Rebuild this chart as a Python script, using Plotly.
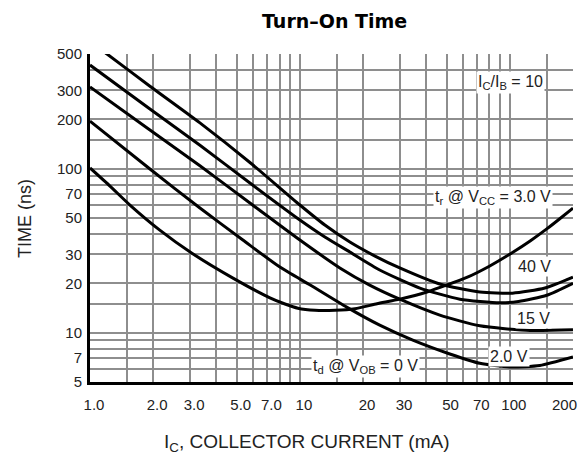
import plotly.graph_objects as go

# ---- data ----
ic_40v = [1.0, 1.205, 1.93, 3.34, 5.78, 10, 13.15, 17.3, 22.8, 29.9, 46.4, 72, 103, 147, 200]
t_40v = [593, 500, 318, 190, 109, 60.0, 45.3, 35.7, 29.3, 24.8, 19.8, 17.7, 17.4, 18.7, 21.8]

ic_0v = [1.0, 1.93, 3.34, 5.78, 10, 13.15, 17.3, 24.0, 37.3, 57.8, 89.6, 110, 150, 200]
t_0v = [428, 231, 139, 81.7, 48.6, 38.3, 31.0, 24.1, 18.7, 16.0, 15.2, 15.5, 16.9, 20.0]

ic_15v = [1.0, 1.93, 3.34, 5.78, 10, 15.5, 21.5, 29.9, 46.4, 72, 125, 200]
t_15v = [315, 172, 104, 61.7, 36.7, 24.8, 19.5, 16.0, 12.8, 11.0, 10.3, 10.4]

ic_2v = [1.0, 1.93, 3.34, 5.35, 8.03, 11.2, 16.7, 24.0, 34.5, 51.8, 72, 100, 139, 200]
t_2v = [195, 99.5, 57.5, 36.7, 25.1, 19.5, 14.3, 11.1, 9.0, 7.41, 6.5, 6.17, 6.3, 7.1]

ic_3v = [1.0, 1.245, 1.55, 2.15, 3.06, 4.80, 7.20, 8.49, 9.78, 11.8, 14.7, 18.3, 23.3, 29.9, 40.3,
         62.4, 80.3, 103, 125, 150, 173, 200]
t_3v = [101, 78.3, 60.0, 42.2, 30.5, 21.5, 16.3, 14.95, 14.1, 13.7, 13.7, 14.0, 15.0, 16.0, 17.7,
        21.7, 25.5, 30.8, 36.2, 42.9, 49.5, 57.5]

x_tickvals = [1, 2, 3, 5, 7, 10, 20, 30, 50, 70, 100, 200]
x_ticktext = ["1.0", "2.0", "3.0", "5.0", "7.0", "10", "20", "30", "50", "70", "100",
              "200&nbsp;&nbsp;&nbsp;&nbsp;&nbsp;&nbsp;"]
x_minor = [1.5, 4, 6, 8, 9, 15, 40, 60, 80, 90, 150]

y_tickvals = [5, 7, 10, 20, 30, 50, 70, 100, 200, 300, 500]
y_ticktext = ["5", "7", "10", "20", "30", "50", "70", "100", "200", "300", "500"]
y_minor = [6, 8, 9, 15, 40, 60, 80, 90, 150, 400]

series = [
    (ic_40v, t_40v),
    (ic_0v, t_0v),
    (ic_15v, t_15v),
    (ic_2v, t_2v),
    (ic_3v, t_3v),
]

fig = go.Figure()
for xs, ys in series:
    fig.add_trace(go.Scatter(
        x=xs, y=ys, mode="lines",
        line=dict(color="black", width=3, shape="spline", smoothing=0.6),
        showlegend=False, hoverinfo="skip",
    ))

FONT = "Liberation Sans, Arial, sans-serif"
GRID = "#8e8e8e"

fig.update_layout(
    width=579, height=455,
    margin=dict(l=90, r=6, t=54, b=73, autoexpand=False),
    paper_bgcolor="white", plot_bgcolor="white",
    font=dict(family=FONT, color="#222"),
    xaxis=dict(
        type="log", range=[0, 2.3011], automargin=False,
        tickmode="array", tickvals=x_tickvals, ticktext=x_ticktext,
        tickfont=dict(size=15, color="#222"),
        showgrid=True, gridcolor=GRID, gridwidth=1.5,
        minor=dict(tickmode="array", tickvals=x_minor, showgrid=True,
                   gridcolor=GRID, gridwidth=1.5),
        showline=True, linecolor="black", linewidth=3,
        ticks="", ticklabelstandoff=7, ticklabelshift=4,
        ticklabeloverflow="allow", zeroline=False,
    ),
    yaxis=dict(
        type="log", range=[0.69897, 2.69897], automargin=False,
        tickmode="array", tickvals=y_tickvals, ticktext=y_ticktext,
        tickfont=dict(size=15, color="#222"),
        showgrid=True, gridcolor=GRID, gridwidth=1.5,
        minor=dict(tickmode="array", tickvals=y_minor, showgrid=True,
                   gridcolor=GRID, gridwidth=1.5),
        showline=True, linecolor="black", linewidth=3,
        ticks="", ticklabelstandoff=2, zeroline=False,
    ),
)

ann_font = dict(family=FONT, size=16, color="#222")
labels = [
    ("I<sub>C</sub>/I<sub>B</sub> = 10", 0.870, 0.912),
    ("t<sub>r</sub> @ V<sub>CC</sub> = 3.0 V", 0.834, 0.564),
    ("40 V", 0.921, 0.351),
    ("15 V", 0.919, 0.195),
    ("2.0 V", 0.867, 0.079),
    ("t<sub>d</sub> @ V<sub>OB</sub> = 0 V", 0.571, 0.046),
]
for txt, xp, yp in labels:
    fig.add_annotation(text=txt, x=xp, y=yp, xref="paper", yref="paper",
                       showarrow=False, font=ann_font, bgcolor="white",
                       xanchor="center", yanchor="middle", borderpad=1)

# title and axis titles
fig.add_annotation(text="<b>Turn–On Time</b>", x=0.507, y=1.1006, xref="paper", yref="paper",
                   showarrow=False, font=dict(family="DejaVu Sans, sans-serif", size=19, color="black"),
                   xanchor="center", yanchor="middle")
fig.add_annotation(text="I<sub>C</sub>, COLLECTOR CURRENT (mA)", x=0.449, y=-0.186,
                   xref="paper", yref="paper", showarrow=False,
                   font=dict(family=FONT, size=19, color="#222"),
                   xanchor="center", yanchor="middle")
fig.add_annotation(text="TIME (ns)", x=-0.1346, y=0.5, xref="paper", yref="paper",
                   showarrow=False, textangle=-90,
                   font=dict(family=FONT, size=18, color="#222"),
                   xanchor="center", yanchor="middle")

fig.write_html("out.html")
